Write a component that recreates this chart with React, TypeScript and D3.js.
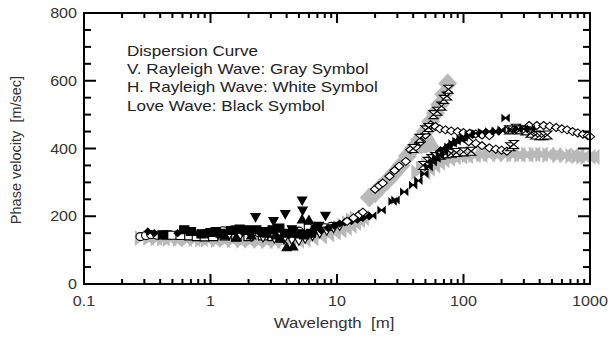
import React from "react";
import * as d3 from "d3";

type Pt = [number, number];

// ---- Tick labels ----
const xTickValues = [0.1, 1, 10, 100, 1000];
const xTickLabels = ["0.1", "1", "10", "100", "1000"];
const yTickValues = [0, 200, 400, 600, 800];
const yTickLabels = ["0", "200", "400", "600", "800"];

const legendLines = [
  "Dispersion Curve",
  "V. Rayleigh Wave: Gray Symbol",
  "H. Rayleigh Wave: White Symbol",
  "Love Wave: Black Symbol",
];

// ---- V. Rayleigh (gray symbols) ----
const grayLow: Pt[] = [
  [0.3, 136], [0.35, 135], [0.4, 134], [0.45, 134], [0.5, 133], [0.6, 133], [0.7, 132],
  [0.8, 132], [0.9, 131], [1.0, 131], [1.2, 130], [1.4, 130], [1.6, 129], [1.9, 128],
  [2.2, 128], [2.6, 127], [3.0, 126], [3.5, 126], [4.0, 127], [4.6, 128], [5.2, 131],
  [6.0, 135], [7.0, 140], [8.0, 146], [9.0, 152], [10, 158], [11, 165], [12, 172],
  [13, 180], [14, 188], [15, 195],
];
const grayRising: Pt[] = [
  [18, 255], [20, 268], [22, 285], [25, 305], [28, 325], [32, 350], [36, 378], [40, 400],
  [45, 425], [50, 450], [55, 480], [60, 505], [65, 530], [70, 560], [75, 592],
];
const grayMid: Pt[] = [[40, 408], [44, 410], [48, 413], [52, 416], [56, 418]];
const grayLower: Pt[] = [
  [46, 330], [50, 340], [55, 350], [60, 358], [65, 365], [72, 370], [80, 374], [90, 376],
  [100, 378], [115, 380], [130, 381], [150, 382], [170, 383], [200, 383], [230, 382],
  [260, 381], [300, 381], [340, 383], [390, 383], [440, 382], [500, 381], [600, 380],
  [680, 379], [760, 378], [850, 377], [930, 376], [1000, 375],
];

// ---- H. Rayleigh (white symbols) ----
const whiteCircle: Pt[] = [
  [0.28, 140], [0.31, 143], [0.34, 146], [0.38, 144], [1.25, 157], [1.5, 160], [1.7, 158],
  [2.0, 156], [2.4, 152], [3.0, 150], [3.6, 150], [5.0, 156], [6.0, 158], [7.0, 162],
  [8.0, 166], [9.0, 170],
];
const whiteSquare: Pt[] = [
  [0.45, 145], [0.5, 144], [0.58, 143], [0.68, 142], [0.78, 140], [0.9, 139], [1.05, 140],
  [1.3, 142], [1.6, 138], [2.0, 140], [2.6, 142], [3.1, 140], [6.0, 165], [6.8, 168],
];
const whiteTriDown: Pt[] = [
  [0.95, 148], [1.15, 145], [1.4, 142], [1.7, 140], [2.1, 138], [2.6, 136], [3.2, 133],
  [3.8, 130], [4.4, 128], [5.0, 126], [5.6, 132], [6.4, 140], [7.3, 148], [8.3, 156],
  [9.4, 163], [10.5, 170],
];
const whiteDiamond: Pt[] = [
  [12, 185], [13.5, 195], [15, 205], [16, 212],
  [20, 280], [21.5, 290], [23, 298], [26, 318], [28.5, 335], [31, 348], [35, 362],
  [38, 396], [42, 405], [46, 420], [50, 440],
  [55, 470], [60, 465], [65, 458], [72, 455], [80, 452], [90, 450], [100, 447],
  [112, 445], [125, 443], [140, 440], [160, 438],
  [110, 420], [125, 415], [140, 408], [160, 402], [180, 398], [200, 395], [220, 392],
  [330, 468], [380, 468], [430, 468], [480, 466], [540, 462], [600, 458], [660, 455],
  [730, 450], [800, 446], [880, 442], [960, 438], [1000, 435],
];
const whiteHourglass: Pt[] = [
  [40, 400], [45, 430], [50, 455], [53, 462], [58, 500], [62, 510], [67, 525], [70, 545],
  [74, 555], [76, 575],
  [48, 350], [52, 362], [56, 370], [60, 376], [66, 380], [72, 384], [80, 386], [88, 388],
  [100, 390], [115, 392], [235, 405], [250, 412],
  [230, 455], [260, 460], [280, 455], [310, 452], [340, 445], [370, 440], [400, 438],
  [430, 438], [460, 440],
];

// ---- Love (black symbols) ----
const blackSquare: Pt[] = [
  [0.42, 145], [0.62, 160], [0.7, 155], [0.85, 148], [1.0, 152], [1.1, 155], [1.2, 150],
  [1.45, 158], [1.7, 162], [2.0, 158], [2.3, 160], [2.7, 155], [3.1, 160], [3.5, 165],
  [3.9, 150], [4.5, 155], [5.0, 148], [5.5, 145], [6.2, 150],
];
const blackDiamond: Pt[] = [
  [0.32, 155], [0.36, 150], [0.55, 150], [0.8, 148], [1.3, 150], [1.8, 152], [2.5, 148],
  [3.3, 142], [4.2, 145], [5.2, 150], [6.5, 152], [7.5, 158], [8.5, 165], [9.5, 172],
  [10.5, 178], [11.5, 182], [13, 186], [14.5, 190], [16, 195], [18, 200],
  [52, 355], [55, 365], [58, 372], [62, 385], [66, 395], [72, 400], [78, 410], [85, 418],
  [92, 425], [100, 430], [105, 437], [120, 442], [135, 445], [150, 447], [170, 449],
  [190, 450],
];
const blackBowtie: Pt[] = [
  [19, 202], [22.5, 218], [27.5, 244], [29, 248], [34, 272], [40, 292], [44, 305],
  [49, 325], [53, 345], [57, 360], [61, 370], [65, 380], [70, 392], [76, 405], [82, 415],
  [88, 422], [95, 428], [100, 432], [110, 440], [125, 445], [140, 448], [160, 450],
  [180, 452], [200, 455], [215, 490], [240, 455], [270, 457], [300, 458], [340, 458],
];
const blackTriUp: Pt[] = [
  [1.3, 145], [1.6, 140], [2.1, 145], [2.8, 150], [3.3, 145], [3.6, 135], [4.0, 110],
  [4.5, 112], [5.3, 192], [6.0, 190], [6.6, 170], [4.8, 150],
];
const blackTriDown: Pt[] = [
  [2.27, 196], [3.15, 184], [3.9, 205], [5.3, 245], [5.35, 215], [8.1, 200], [1.9, 160],
  [2.6, 155], [4.4, 160], [7.2, 170],
];

type Shape = "circle" | "square" | "triUp" | "triDown" | "diamond" | "hourglass" | "bowtie";
type Style = "gray" | "white" | "black";

const seriesList: { data: Pt[]; shape: Shape; style: Style; size?: [number, number] }[] = [
  { data: grayLow, shape: "bowtie", style: "gray" },
  { data: grayRising, shape: "diamond", style: "gray" },
  { data: grayMid, shape: "triUp", style: "gray" },
  { data: grayLower, shape: "bowtie", style: "gray" },
  { data: whiteCircle, shape: "circle", style: "white" },
  { data: whiteSquare, shape: "square", style: "white" },
  { data: whiteTriDown, shape: "triDown", style: "white" },
  { data: blackSquare, shape: "square", style: "black" },
  { data: blackDiamond, shape: "diamond", style: "black", size: [3.6, 3.4] },
  { data: blackTriUp, shape: "triUp", style: "black" },
  { data: blackTriDown, shape: "triDown", style: "black" },
  { data: whiteDiamond, shape: "diamond", style: "white" },
  { data: whiteHourglass, shape: "hourglass", style: "white" },
  { data: blackBowtie, shape: "bowtie", style: "black", size: [3.6, 3.2] },
];

function shapePath(shape: Shape, sx: number, sy: number): string {
  switch (shape) {
    case "circle":
      return `M${-sx},0A${sx},${sy} 0 1,0 ${sx},0A${sx},${sy} 0 1,0 ${-sx},0Z`;
    case "square":
      return `M${-sx},${-sy}H${sx}V${sy}H${-sx}Z`;
    case "triUp":
      return `M0,${-sy}L${sx},${sy}L${-sx},${sy}Z`;
    case "triDown":
      return `M0,${sy}L${sx},${-sy}L${-sx},${-sy}Z`;
    case "diamond":
      return `M0,${-sy}L${sx},0L0,${sy}L${-sx},0Z`;
    case "hourglass":
      return `M${-sx},${-sy}L${sx},${-sy}L${-sx},${sy}L${sx},${sy}Z`;
    case "bowtie":
      return `M${-sx},${-sy}L${sx},${sy}L${sx},${-sy}L${-sx},${sy}Z`;
  }
}

const W = 610;
const H = 340;
const L = 84, R = 590, T = 13, B = 284;
const FONT = "'Liberation Sans', Arial, Helvetica, sans-serif";

export default function App() {
  const x = d3.scaleLog().domain([0.1, 1000]).range([L, R]);
  const y = d3.scaleLinear().domain([0, 800]).range([B, T]);

  const xMinor: number[] = [];
  for (let e = -1; e < 3; e++) {
    for (let k = 2; k <= 9; k++) xMinor.push(k * Math.pow(10, e));
  }
  const yMinor = d3.range(0, 801, 50).filter((v) => v % 200 !== 0);

  const sizeFor = (st: Style, shape: Shape): [number, number] => {
    if (st === "gray") return shape === "diamond" ? [9.5, 10] : [9.5, 8];
    return [4.6, 4];
  };

  return (
    <svg
      width={W}
      height={H}
      style={{ position: "absolute", left: 0, top: 0, background: "#fff" }}
      fontFamily={FONT}
    >
      <rect x={0} y={0} width={W} height={H} fill="#fff" />

      {/* legend */}
      {legendLines.map((t, i) => (
        <text
          key={t}
          transform={`translate(127,${56 + i * 18.2}) scale(1.22,1)`}
          fontSize={14}
          fill="#222"
        >
          {t}
        </text>
      ))}

      {/* data */}
      <g>
        {seriesList.map((s, si) => {
          const [sx, sy] = s.size ?? sizeFor(s.style, s.shape);
          const d = shapePath(s.shape, sx, sy);
          const fill = s.style === "gray" ? "#b9b9b9" : s.style === "white" ? "#fff" : "#000";
          const stroke = s.style === "gray" ? "none" : "#000";
          return (
            <g key={si}>
              {s.data.map(([lx, v], i) => (
                <path
                  key={i}
                  d={d}
                  transform={`translate(${x(lx)},${y(v)})`}
                  fill={fill}
                  stroke={stroke}
                  strokeWidth={1.1}
                />
              ))}
            </g>
          );
        })}
      </g>

      {/* frame */}
      <rect x={L} y={T} width={R - L} height={B - T} fill="none" stroke="#000" strokeWidth={2} />

      {/* x ticks */}
      {xTickValues.map((v) => (
        <g key={"xm" + v}>
          <line x1={x(v)} x2={x(v)} y1={B} y2={B - 10} stroke="#000" strokeWidth={2} />
          <line x1={x(v)} x2={x(v)} y1={T} y2={T + 10} stroke="#000" strokeWidth={2} />
        </g>
      ))}
      {xMinor.map((v) => (
        <g key={"xn" + v}>
          <line x1={x(v)} x2={x(v)} y1={B} y2={B - 5} stroke="#000" strokeWidth={2} />
          <line x1={x(v)} x2={x(v)} y1={T} y2={T + 5} stroke="#000" strokeWidth={2} />
        </g>
      ))}
      {/* y ticks */}
      {yTickValues.map((v) => (
        <g key={"ym" + v}>
          <line x1={L} x2={L + 12} y1={y(v)} y2={y(v)} stroke="#000" strokeWidth={2} />
          <line x1={R} x2={R - 12} y1={y(v)} y2={y(v)} stroke="#000" strokeWidth={2} />
        </g>
      ))}
      {yMinor.map((v) => (
        <g key={"yn" + v}>
          <line x1={L} x2={L + 7} y1={y(v)} y2={y(v)} stroke="#000" strokeWidth={2} />
          <line x1={R} x2={R - 7} y1={y(v)} y2={y(v)} stroke="#000" strokeWidth={2} />
        </g>
      ))}

      {/* tick labels */}
      {xTickValues.map((v, i) => (
        <text
          key={"xl" + v}
          transform={`translate(${x(v)},306) scale(1.15,1)`}
          textAnchor="middle"
          fontSize={14}
          fill="#333"
        >
          {xTickLabels[i]}
        </text>
      ))}
      {yTickValues.map((v, i) => (
        <text
          key={"yl" + v}
          transform={`translate(77,${y(v) + 5}) scale(1.15,1)`}
          textAnchor="end"
          fontSize={14}
          fill="#333"
        >
          {yTickLabels[i]}
        </text>
      ))}

      {/* axis titles */}
      <text
        transform={`translate(${(L + R) / 2 - 3},328) scale(1.2,1)`}
        textAnchor="middle"
        fontSize={14}
        fill="#333"
        xmlSpace="preserve"
        style={{ whiteSpace: "pre" }}
      >
        {"Wavelength  [m]"}
      </text>
      <text
        transform={`translate(21,150) rotate(-90)`}
        textAnchor="middle"
        fontSize={14.5}
        fill="#333"
        xmlSpace="preserve"
        style={{ whiteSpace: "pre" }}
      >
        {"Phase velocity  [m/sec]"}
      </text>
    </svg>
  );
}
